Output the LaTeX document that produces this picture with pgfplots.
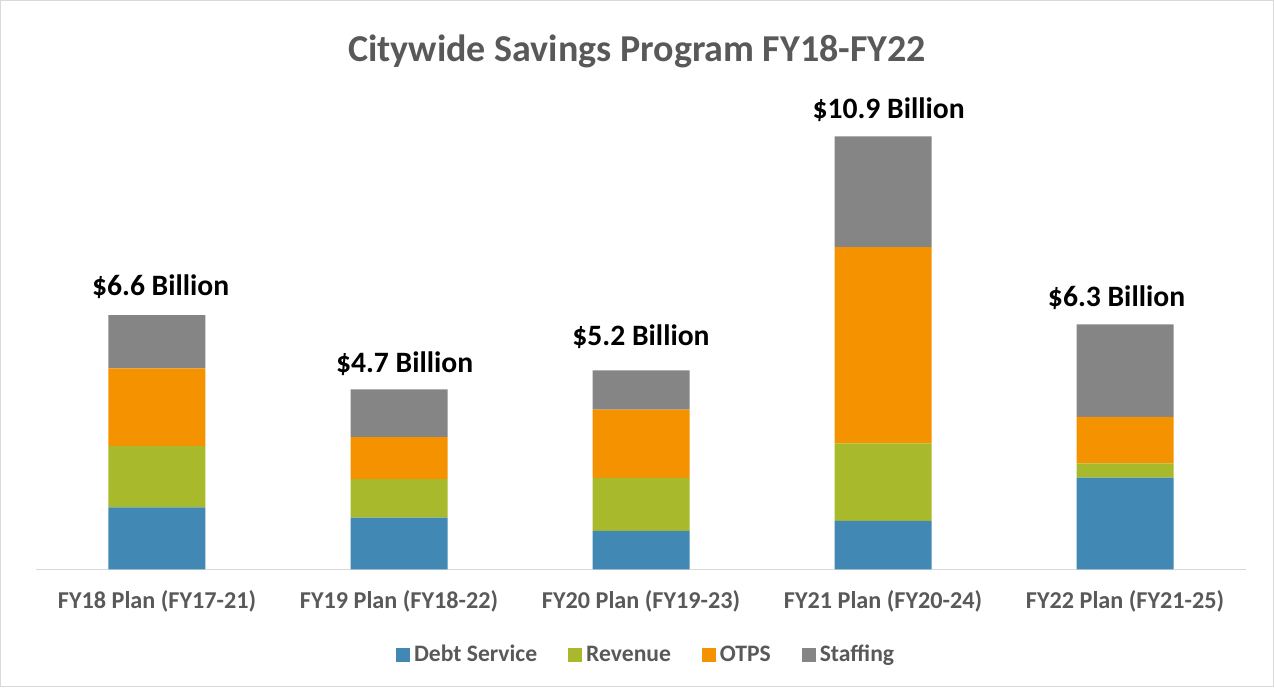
\documentclass[border=0pt]{standalone}
\usepackage{fontspec}
\setmainfont{Carlito}
\usepackage{pgfplots}
\pgfplotsset{compat=1.18}
\definecolor{cDebt}{RGB}{65,137,180}
\definecolor{cRev}{RGB}{168,185,43}
\definecolor{cOtps}{RGB}{245,146,0}
\definecolor{cStaff}{RGB}{133,133,133}
\definecolor{txtgray}{RGB}{89,89,89}
\definecolor{linegray}{RGB}{217,217,217}
\pgfplotsset{common/.style={at={(18pt,58.85pt)}, anchor=south west,
  scale only axis, width=605pt, height=238.3pt,
  xmin=-0.5, xmax=4.5, ymin=0, ymax=12}}
\begin{document}
\begin{tikzpicture}
\draw[linegray, line width=0.6pt] (0.3pt,0.3pt) rectangle (636.7pt,343.2pt);
\node[font=\fontsize{19}{21}\selectfont\bfseries, text=txtgray] at (318.5pt,318pt) {Citywide Savings Program FY18-FY22};
\begin{axis}[
  common,
  ybar stacked, bar width=48.5pt,
  hide y axis,
  axis x line*=bottom,
  x axis line style={draw=linegray, line width=0.8pt, -},
  xtick=data,
  xticklabels={FY18 Plan (FY17-21), FY19 Plan (FY18-22), FY20 Plan (FY19-23), FY21 Plan (FY20-24), FY22 Plan (FY21-25)},
  major tick length=0pt,
  xticklabel style={font=\fontsize{12.1}{14}\selectfont\bfseries, text=txtgray, yshift=-7pt},
  legend columns=4,
  legend style={draw=none, at={(0.505,-0.18)}, anchor=center, font=\fontsize{11.8}{14}\selectfont\bfseries, text=txtgray,
    /tikz/every even column/.append style={column sep=13.5pt}},
  legend image code/.code={\fill[#1] (0pt,-3.5pt) rectangle (7pt,3.5pt);},
  every axis plot/.append style={draw=none},
]
\addplot[fill=cDebt] coordinates {(0,1.56) (1,1.30) (2,0.97) (3,1.22) (4,2.31)};
\addlegendentry{Debt Service}
\addplot[fill=cRev] coordinates {(0,1.54) (1,0.97) (2,1.33) (3,1.95) (4,0.36)};
\addlegendentry{Revenue}
\addplot[fill=cOtps] coordinates {(0,1.96) (1,1.06) (2,1.72) (3,4.94) (4,1.17)};
\addlegendentry{OTPS}
\addplot[fill=cStaff] coordinates {(0,1.34) (1,1.20) (2,0.99) (3,2.79) (4,2.33)};
\addlegendentry{Staffing}
\end{axis}
\begin{axis}[common, hide axis]
\addplot[only marks, mark=none, point meta=explicit symbolic,
  nodes near coords,
  every node near coord/.style={font=\fontsize{14.8}{17}\selectfont\bfseries, text=black, anchor=center, yshift=14pt}]
  coordinates {(0.015,6.40) [\$6.6 Billion] (1.023,4.48) [\$4.7 Billion] (2,5.14) [\$5.2 Billion] (3.023,10.875) [\$10.9 Billion] (3.965,6.13) [\$6.3 Billion]};
\end{axis}
\pgfresetboundingbox
\path[use as bounding box] (0,0) rectangle (637pt,343.5pt);
\end{tikzpicture}
\end{document}
